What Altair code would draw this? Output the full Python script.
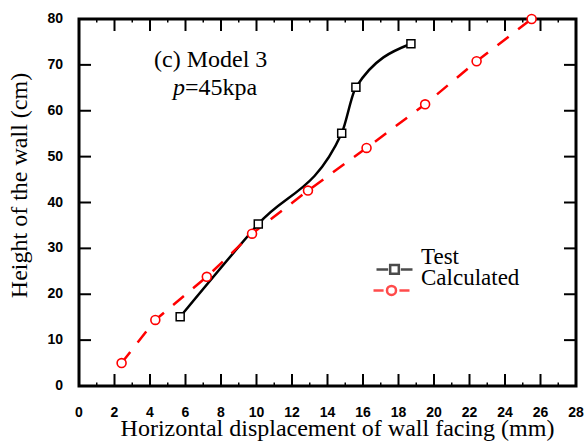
import altair as alt
import pandas as pd

# ---------------- data ----------------
test_x = [5.7, 10.1, 14.8, 15.6, 18.7]
test_y = [15.1, 35.3, 55.1, 65.1, 74.6]
calc_x = [2.4, 4.3, 7.2, 9.75, 12.9, 16.2, 19.5, 22.4, 25.5]
calc_y = [5.0, 14.4, 23.8, 33.2, 42.6, 51.9, 61.4, 70.8, 80.0]
series_names = ["Test", "Calculated"]
x_ticks = list(range(0, 29, 2))
x_minor = list(range(1, 28, 2))
y_ticks = list(range(0, 81, 10))
title_line = "(c) Model 3"
p_italic = "p"
p_rest = "=45kpa"
x_title = "Horizontal displacement of wall facing (mm)"
y_title = "Height of the wall (cm)"

# annotation anchors (data coordinates)
ann1_x, ann1_y = 7.42, 69.6
ann2_x, ann2_y = 5.97, 63.4

W, H = 497, 367
SERIF = "Liberation Serif"
SANS = "Liberation Sans"

xs = alt.Scale(domain=[0, 28], nice=False, zero=False)
ys = alt.Scale(domain=[0, 80], nice=False, zero=False)

test_df = pd.DataFrame({"x": test_x, "y": test_y})
calc_df = pd.DataFrame({"x": calc_x, "y": calc_y})
xt_df = pd.DataFrame({"x": x_ticks, "lab": [str(v) for v in x_ticks]})
xm_df = pd.DataFrame({"x": x_minor})
yt_df = pd.DataFrame({"y": y_ticks, "lab": [str(v) for v in y_ticks]})


def X():
    return alt.X("x:Q", scale=xs, axis=None)


def Y():
    return alt.Y("y:Q", scale=ys, axis=None)


test_line = alt.Chart(test_df).mark_line(color="black", strokeWidth=2.5, interpolate="monotone").encode(
    x=X(), y=Y())
calc_line = alt.Chart(calc_df).mark_line(color="red", strokeWidth=2.5, strokeDash=[14, 12]).encode(
    x=X(), y=Y())
calc_pts = alt.Chart(calc_df).mark_point(shape="circle", size=80, filled=False, fill="white",
                                         fillOpacity=1, stroke="red", strokeWidth=1.6, opacity=1).encode(
    x=X(), y=Y())
test_pts = alt.Chart(test_df).mark_point(shape="square", size=64, filled=False, fill="white",
                                         fillOpacity=1, stroke="black", strokeWidth=1.5, opacity=1).encode(
    x=X(), y=Y())


# inward ticks (positions from the tick arrays through the scales)
def xticks(df, y0, y1, sw=2):
    return alt.Chart(df).mark_rule(color="black", strokeWidth=sw).encode(
        x=alt.X("x:Q", scale=xs, axis=None), y=alt.value(y0), y2=alt.value(y1))


def yticks(df, x0, x1, sw=2):
    return alt.Chart(df).mark_rule(color="black", strokeWidth=sw).encode(
        y=alt.Y("y:Q", scale=ys, axis=None), x=alt.value(x0), x2=alt.value(x1))


tick_layers = [
    xticks(xt_df, H, H - 12), xticks(xt_df, 0, 12),
    xticks(xm_df, H, H - 3.5, 1.5), xticks(xm_df, 0, 3.5, 1.5),
    yticks(yt_df, 0, 12), yticks(yt_df, W, W - 12),
]

# tick labels
x_labels = alt.Chart(xt_df).mark_text(font=SANS, fontWeight="bold", fontSize=14, color="black",
                                      align="center", baseline="top").encode(
    x=alt.X("x:Q", scale=xs, axis=None), y=alt.value(H + 20), text="lab:N")
y_labels = alt.Chart(yt_df).mark_text(font=SANS, fontWeight="bold", fontSize=14, color="black",
                                      align="right", baseline="middle").encode(
    y=alt.Y("y:Q", scale=ys, axis=None), x=alt.value(-16), text="lab:N")

# axis titles
x_title_mark = alt.Chart(pd.DataFrame({"t": [x_title]})).mark_text(
    font=SERIF, fontSize=24, color="black", align="center", baseline="alphabetic").encode(
    x=alt.value(258.5), y=alt.value(H + 50), text="t:N")
y_title_mark = alt.Chart(pd.DataFrame({"t": [y_title]})).mark_text(
    font=SERIF, fontSize=24, color="black", align="center", baseline="alphabetic", angle=270).encode(
    x=alt.value(-52), y=alt.value(166.5), text="t:N")


# annotation
def text_layer(x, y, txt, **kw):
    return alt.Chart(pd.DataFrame({"x": [x], "y": [y], "t": [txt]})).mark_text(
        font=SERIF, fontSize=24, baseline="alphabetic", color="black", **kw).encode(
        x=X(), y=Y(), text="t:N")


ann1 = text_layer(ann1_x, ann1_y, title_line, align="center")
ann2a = text_layer(ann2_x, ann2_y, p_italic, align="right", fontStyle="italic")
ann2b = text_layer(ann2_x, ann2_y, p_rest, align="left")

# legend: one single-entry legend per series, symbol = line + marker
path_test = "M-1,0.33H-0.35M-0.24,0.09H0.24V0.57H-0.24ZM0.35,0.33H1"
path_calc = "M-1,0.33H-0.44M-0.25,0.33A0.25,0.25,0,1,1,0.25,0.33A0.25,0.25,0,1,1,-0.25,0.33M0.44,0.33H1"


def legend_layer(name, path, color, lx, ly, loff):
    leg = alt.Legend(title=None, orient="none", legendX=lx, legendY=ly, direction="vertical",
                     padding=0, symbolSize=1296, symbolStrokeWidth=2.5,
                     labelFont=SERIF, labelFontSize=23, labelBaseline="alphabetic", labelOffset=loff,
                     labelColor="black")
    return alt.Chart(pd.DataFrame({"series": [name]})).mark_point(
        filled=False, size=1296, strokeWidth=2.5).encode(
        shape=alt.Shape("series:N", scale=alt.Scale(domain=[name], range=[path]), legend=leg),
        color=alt.Color("series:N", scale=alt.Scale(domain=[name], range=[color]), legend=leg),
    ).transform_filter("false")


leg1 = legend_layer(series_names[0], path_test, "black", 296, 225, 7)
leg2 = legend_layer(series_names[1], path_calc, "red", 293, 246, 10)

chart = alt.layer(
    test_line, calc_line, calc_pts, test_pts, *tick_layers,
    x_labels, y_labels, x_title_mark, y_title_mark,
    ann1, ann2a, ann2b, leg1, leg2
).resolve_scale(
    color="independent", shape="independent"
).properties(
    width=W, height=H,
    autosize=alt.AutoSizeParams(type="none"),
    padding={"left": 79, "top": 19, "right": 11, "bottom": 61},
    background="white",
).configure_view(stroke="black", strokeWidth=3)

chart.save("out.html", embed_options={"renderer": "svg", "actions": False})
